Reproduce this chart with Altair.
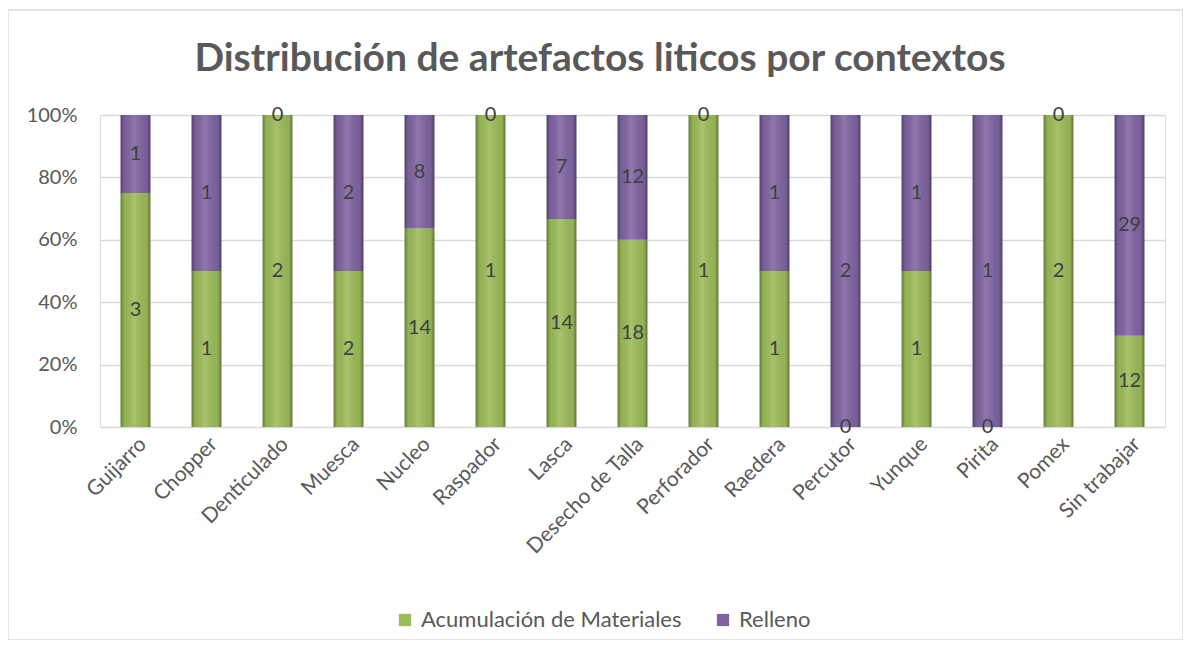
import altair as alt
import pandas as pd

categories = ["Guijarro", "Chopper", "Denticulado", "Muesca", "Nucleo", "Raspador", "Lasca",
              "Desecho de Talla", "Perforador", "Raedera", "Percutor", "Yunque", "Pirita",
              "Pomex", "Sin trabajar"]
acumulacion = [3, 1, 2, 2, 14, 1, 14, 18, 1, 1, 0, 1, 0, 2, 12]
relleno = [1, 1, 0, 2, 8, 0, 7, 12, 0, 1, 2, 1, 1, 0, 29]
series = ["Acumulación de Materiales", "Relleno"]
colors = ["#9BBB59", "#8064A2"]
title_text = "Distribución de artefactos liticos por contextos"

rows = []
for i, c in enumerate(categories):
    rows.append({"cat": c, "serie": series[0], "value": acumulacion[i], "order": 0})
    rows.append({"cat": c, "serie": series[1], "value": relleno[i], "order": 1})
df = pd.DataFrame(rows)

FONT = "Lato"
W, H = 1065, 312

base = alt.Chart(df).transform_stack(
    stack="value", groupby=["cat"], as_=["v0", "v1"], offset="normalize",
    sort=[alt.SortField("order", order="ascending")]
).transform_calculate(mid="(datum.v0 + datum.v1) / 2")

xenc = alt.X("cat:N", sort=categories, title=None,
             scale=alt.Scale(paddingInner=0.58, paddingOuter=0.29),
             axis=alt.Axis(labelAngle=-45, labelAlign="right", labelBaseline="top",
                           labelFontSize=21, labelColor="#595959", labelFont=FONT,
                           domain=False, ticks=False, labelPadding=6, labelLimit=300))

bars = base.mark_bar().encode(
    x=xenc,
    y=alt.Y("v0:Q", scale=alt.Scale(domain=[0, 1]), title=None,
            axis=alt.Axis(format="%", values=[0, 0.2, 0.4, 0.6, 0.8, 1.0],
                          labelFontSize=20, labelColor="#595959", labelFont=FONT,
                          domain=False, ticks=False, gridColor="#D9D9D9",
                          gridWidth=1.3, labelPadding=23)),
    y2="v1:Q",
    color=alt.Color("serie:N", sort=series,
                    scale=alt.Scale(domain=series, range=colors),
                    legend=alt.Legend(title=None, orient="none", direction="horizontal",
                                      legendX=294, legendY=494, symbolType="square",
                                      symbolSize=150, labelFontSize=22, labelFont=FONT,
                                      labelColor="#595959", columnPadding=30,
                                      labelLimit=500, labelOffset=5,
                                      symbolStrokeWidth=0)),
)

shade = base.mark_bar(
    color=alt.Gradient(
        gradient="linear", x1=0, x2=1, y1=0, y2=0,
        stops=[alt.GradientStop(offset=0, color="rgba(0,0,0,0.35)"),
               alt.GradientStop(offset=0.12, color="rgba(0,0,0,0.06)"),
               alt.GradientStop(offset=0.45, color="rgba(255,255,255,0.12)"),
               alt.GradientStop(offset=0.88, color="rgba(0,0,0,0.06)"),
               alt.GradientStop(offset=1, color="rgba(0,0,0,0.38)")])
).encode(x=xenc, y="v0:Q", y2="v1:Q")

labels = base.mark_text(fontSize=20, color="#404040", font=FONT, baseline="middle").encode(
    x=alt.X("cat:N", sort=categories),
    y="mid:Q",
    text="value:Q",
)

deco = alt.Chart(pd.DataFrame({"t": [title_text]}))

border = deco.mark_rect(
    fill=None, stroke="#D9D9D9", strokeWidth=1.3, clip=False
).encode(x=alt.value(-92), x2=alt.value(1083), y=alt.value(-105), y2=alt.value(525))

title = deco.mark_text(fontSize=39, font=FONT, fontWeight="bold", color="#595959",
                       align="center", baseline="middle").encode(
    x=alt.value(500), y=alt.value(-56), text="t:N")

chart = alt.layer(border, bars, shade, labels, title).properties(
    width=W, height=H,
    padding={"left": 92, "top": 107, "right": 18, "bottom": 213},
    autosize=alt.AutoSizeParams(type="none"),
).configure_view(stroke=None).configure(background="white")

chart.save("out.html", embed_options={"renderer": "svg", "actions": False})
